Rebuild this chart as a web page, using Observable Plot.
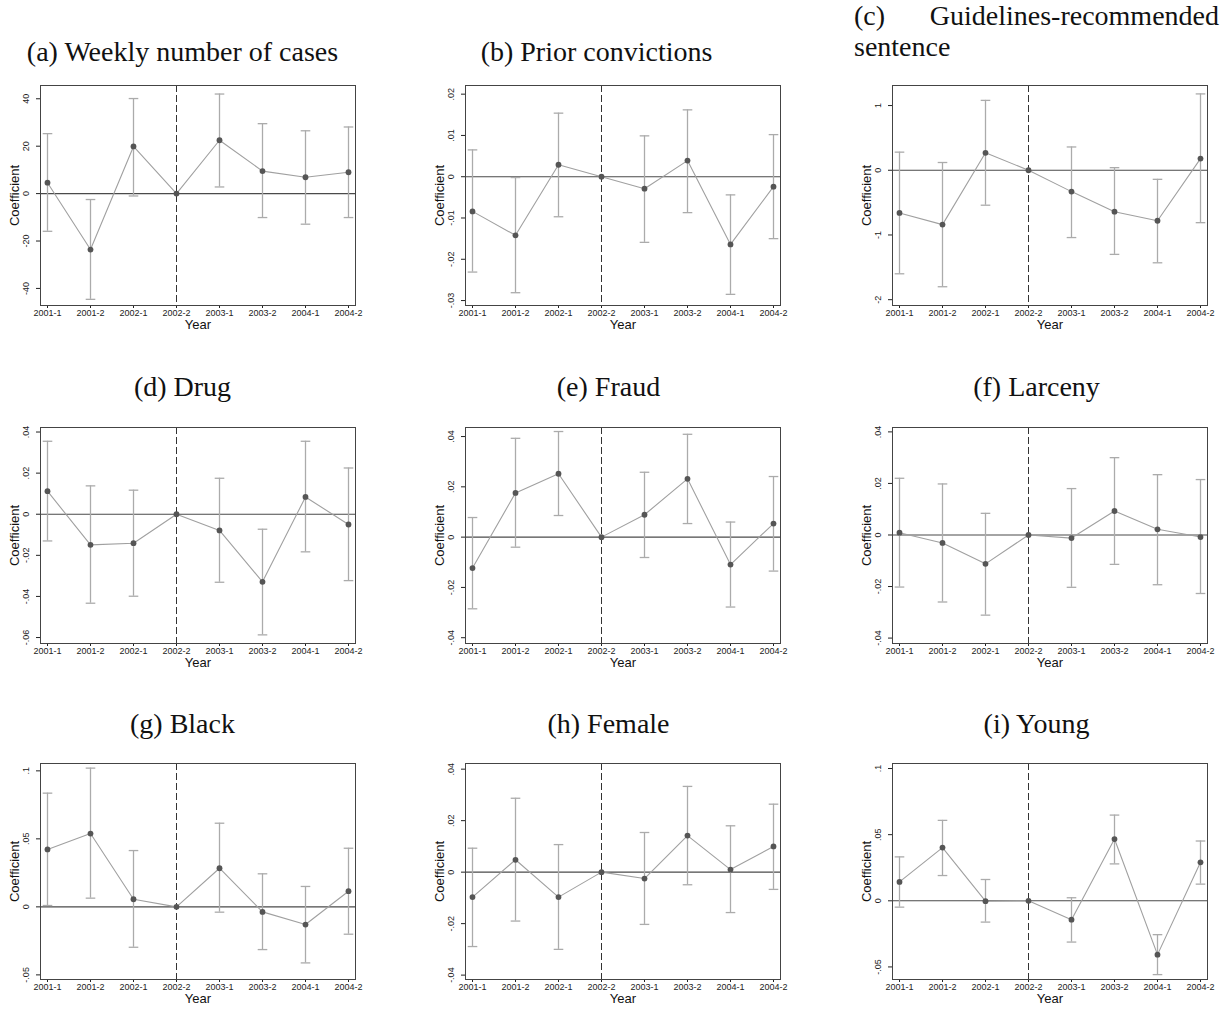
<!DOCTYPE html>
<html><head><meta charset="utf-8">
<script src="https://cdn.jsdelivr.net/npm/d3@7"></script>
<script src="https://cdn.jsdelivr.net/npm/@observablehq/plot@0.6"></script>
<style>
body{margin:0;background:#fff;}
#root{position:relative;width:1227px;height:1009px;overflow:hidden;background:#fff;}
.title{position:absolute;font-family:"Liberation Serif","Times New Roman",serif;font-size:28px;line-height:28px;color:#111;white-space:nowrap;text-align:center;width:365px;}
.title2{display:flex;justify-content:space-between;}
.panel{position:absolute;}
</style></head><body><div id="root"></div>
<script>
// ---------- data ----------
const periods = ["2001-1","2001-2","2002-1","2002-2","2003-1","2003-2","2004-1","2004-2"];
const refPeriod = "2002-2";

const casesTitle = "(a) Weekly number of cases";
const casesCoef = [4.6, -23.6, 19.9, 0, 22.5, 9.5, 6.9, 9.0];
const casesLo   = [-15.9, -44.6, -1.0, null, 2.8, -10.1, -12.9, -10.1];
const casesHi   = [25.3, -2.5, 40.1, null, 42.0, 29.5, 26.5, 28.1];
const casesTicks = [-40, -20, 0, 20, 40];

const priorTitle = "(b) Prior convictions";
const priorCoef = [-0.0084, -0.0142, 0.0029, 0, -0.0029, 0.0039, -0.0164, -0.0024];
const priorLo   = [-0.0231, -0.0281, -0.0097, null, -0.0159, -0.0087, -0.0285, -0.0150];
const priorHi   = [0.0065, -0.0002, 0.0154, null, 0.0099, 0.0162, -0.0044, 0.0102];
const priorTicks = [-0.03, -0.02, -0.01, 0, 0.01, 0.02];

const guideTitle = ["(c)", "Guidelines-recommended", "sentence"];
const guideCoef = [-0.66, -0.84, 0.27, 0, -0.33, -0.64, -0.78, 0.18];
const guideLo   = [-1.60, -1.80, -0.54, null, -1.04, -1.30, -1.43, -0.81];
const guideHi   = [0.28, 0.12, 1.08, null, 0.36, 0.04, -0.14, 1.18];
const guideTicks = [-2, -1, 0, 1];

const drugTitle = "(d) Drug";
const drugCoef = [0.0112, -0.0149, -0.0141, 0, -0.0079, -0.0329, 0.0084, -0.0050];
const drugLo   = [-0.0130, -0.0433, -0.0399, null, -0.0331, -0.0587, -0.0183, -0.0323];
const drugHi   = [0.0355, 0.0138, 0.0117, null, 0.0175, -0.0073, 0.0355, 0.0225];
const drugTicks = [-0.06, -0.04, -0.02, 0, 0.02, 0.04];

const fraudTitle = "(e) Fraud";
const fraudCoef = [-0.0123, 0.0176, 0.0252, 0, 0.0089, 0.0232, -0.0109, 0.0054];
const fraudLo   = [-0.0285, -0.0040, 0.0086, null, -0.0081, 0.0054, -0.0278, -0.0135];
const fraudHi   = [0.0078, 0.0393, 0.0420, null, 0.0258, 0.0409, 0.0060, 0.0241];
const fraudTicks = [-0.04, -0.02, 0, 0.02, 0.04];

const larcTitle = "(f) Larceny";
const larcCoef = [0.0009, -0.0031, -0.0112, 0, -0.0012, 0.0093, 0.0022, -0.0008];
const larcLo   = [-0.0202, -0.0260, -0.0311, null, -0.0203, -0.0114, -0.0193, -0.0227];
const larcHi   = [0.0220, 0.0198, 0.0084, null, 0.0180, 0.0300, 0.0234, 0.0215];
const larcTicks = [-0.04, -0.02, 0, 0.02, 0.04];

const blackTitle = "(g) Black";
const blackCoef = [0.0422, 0.0539, 0.0056, 0, 0.0284, -0.0037, -0.0130, 0.0115];
const blackLo   = [0.0010, 0.0064, -0.0297, null, -0.0039, -0.0314, -0.0412, -0.0201];
const blackHi   = [0.0836, 0.1020, 0.0414, null, 0.0615, 0.0243, 0.0150, 0.0431];
const blackTicks = [-0.05, 0, 0.05, 0.1];

const femTitle = "(h) Female";
const femCoef = [-0.0097, 0.0048, -0.0097, 0, -0.0025, 0.0142, 0.0010, 0.0100];
const femLo   = [-0.0289, -0.0190, -0.0300, null, -0.0203, -0.0049, -0.0157, -0.0067];
const femHi   = [0.0093, 0.0287, 0.0107, null, 0.0154, 0.0333, 0.0180, 0.0264];
const femTicks = [-0.04, -0.02, 0, 0.02, 0.04];

const youngTitle = "(i) Young";
const youngCoef = [0.0143, 0.0402, -0.0003, 0, -0.0143, 0.0467, -0.0407, 0.0291];
const youngLo   = [-0.0048, 0.0191, -0.0161, null, -0.0312, 0.0279, -0.0558, 0.0126];
const youngHi   = [0.0332, 0.0608, 0.0161, null, 0.0023, 0.0648, -0.0256, 0.0452];
const youngTicks = [-0.05, 0, 0.05, 0.1];

// ---------- layout ----------
const colLeft = [1, 426, 853];       // svg left per column
const boxLeft = [0, 426, 854];       // title box left per column
const rowSvgTop = [75, 417, 753];
const rowFrameH = [220, 216, 216];
const rowTitleTop = [37.5, 372.5, 709.5];

const panels = [
  {title: casesTitle, coef: casesCoef, lo: casesLo, hi: casesHi, ticks: casesTicks, domain: [-47.2, 45.6], shift: 0},
  {title: priorTitle, coef: priorCoef, lo: priorLo, hi: priorHi, ticks: priorTicks, domain: [-0.0312, 0.0221], shift: -12},
  {title: guideTitle, coef: guideCoef, lo: guideLo, hi: guideHi, ticks: guideTicks, domain: [-2.09, 1.31], shift: 0},
  {title: drugTitle, coef: drugCoef, lo: drugLo, hi: drugHi, ticks: drugTicks, domain: [-0.0629, 0.0422], shift: 0},
  {title: fraudTitle, coef: fraudCoef, lo: fraudLo, hi: fraudHi, ticks: fraudTicks, domain: [-0.0423, 0.0436], shift: 0},
  {title: larcTitle, coef: larcCoef, lo: larcLo, hi: larcHi, ticks: larcTicks, domain: [-0.0421, 0.0417], shift: 0},
  {title: blackTitle, coef: blackCoef, lo: blackLo, hi: blackHi, ticks: blackTicks, domain: [-0.0534, 0.1054], shift: 0},
  {title: femTitle, coef: femCoef, lo: femLo, hi: femHi, ticks: femTicks, domain: [-0.0417, 0.0422], shift: 0},
  {title: youngTitle, coef: youngCoef, lo: youngLo, hi: youngHi, ticks: youngTicks, domain: [-0.0595, 0.1038], shift: 0}
];

const fmt = d => d === 0 ? "0" : String(+d.toFixed(4)).replace(/^(-?)0\./, "$1.");
const capSymbol = {draw(ctx) { ctx.moveTo(-4.8, 0); ctx.lineTo(4.8, 0); }};
const SANS = "'Liberation Sans', Arial, Helvetica, sans-serif";
const root = document.getElementById("root");

panels.forEach((p, k) => {
  const col = k % 3, row = Math.floor(k / 3);
  // title
  const t = document.createElement("div");
  t.className = "title";
  t.style.left = (boxLeft[col] + p.shift) + "px";
  if (Array.isArray(p.title)) {
    t.style.top = "2px";
    t.style.textAlign = "left";
    t.innerHTML = `<div class="title2"><span>${p.title[0]}</span><span>${p.title[1]}</span></div><div style="margin-top:3px">${p.title[2]}</div>`;
  } else {
    t.style.top = rowTitleTop[row] + "px";
    t.textContent = p.title;
  }
  root.appendChild(t);

  const rows = periods.map((per, i) => ({period: per, coef: p.coef[i], lo: p.lo[i], hi: p.hi[i]}));
  const ci = rows.filter(d => d.lo != null);
  const mt = 10, mb = 40, ml = 39, mr = 16;
  const chart = Plot.plot({
    width: ml + 315 + mr,
    height: mt + rowFrameH[row] + mb,
    marginLeft: ml, marginRight: mr, marginTop: mt, marginBottom: mb,
    style: {background: "transparent", fontFamily: SANS, fontSize: "9px", color: "#222"},
    x: {type: "point", domain: periods, padding: 0.1, label: null, tickSize: 3, tickPadding: 1},
    y: {domain: p.domain, ticks: p.ticks, tickFormat: () => "", tickSize: 4, label: null},
    marks: [
      Plot.ruleY([0], {stroke: "#4a4a4a", strokeWidth: 1.1}),
      Plot.ruleX([refPeriod], {stroke: "#333", strokeDasharray: "7,3"}),
      Plot.ruleX(ci, {x: "period", y1: "lo", y2: "hi", stroke: "#ababab", strokeWidth: 1.3}),
      Plot.dot(ci, {x: "period", y: "lo", symbol: capSymbol, stroke: "#ababab", fill: "none", strokeWidth: 1.3}),
      Plot.dot(ci, {x: "period", y: "hi", symbol: capSymbol, stroke: "#ababab", fill: "none", strokeWidth: 1.3}),
      Plot.line(rows, {x: "period", y: "coef", stroke: "#a0a0a0", strokeWidth: 1.1}),
      Plot.dot(rows, {x: "period", y: "coef", fill: "#555", r: 2.9}),
      Plot.text(p.ticks, {y: d => d, text: fmt, frameAnchor: "left", dx: -11.5, rotate: -90,
        textAnchor: "middle", lineAnchor: "bottom", fontSize: 9, fill: "#222"}),
      Plot.text(["Coefficient"], {text: d => d, frameAnchor: "left", dx: -25.5, rotate: -90,
        textAnchor: "middle", lineAnchor: "middle", fontSize: 13, fill: "#111"}),
      Plot.text(["Year"], {text: d => d, frameAnchor: "bottom", dy: 23.5,
        textAnchor: "middle", lineAnchor: "bottom", fontSize: 13, fill: "#111"}),
      Plot.frame({stroke: "#444"})
    ]
  });
  chart.style.position = "absolute";
  chart.style.left = colLeft[col] + "px";
  chart.style.top = rowSvgTop[row] + "px";
  chart.style.overflow = "visible";
  root.appendChild(chart);
});
</script>
</body></html>
